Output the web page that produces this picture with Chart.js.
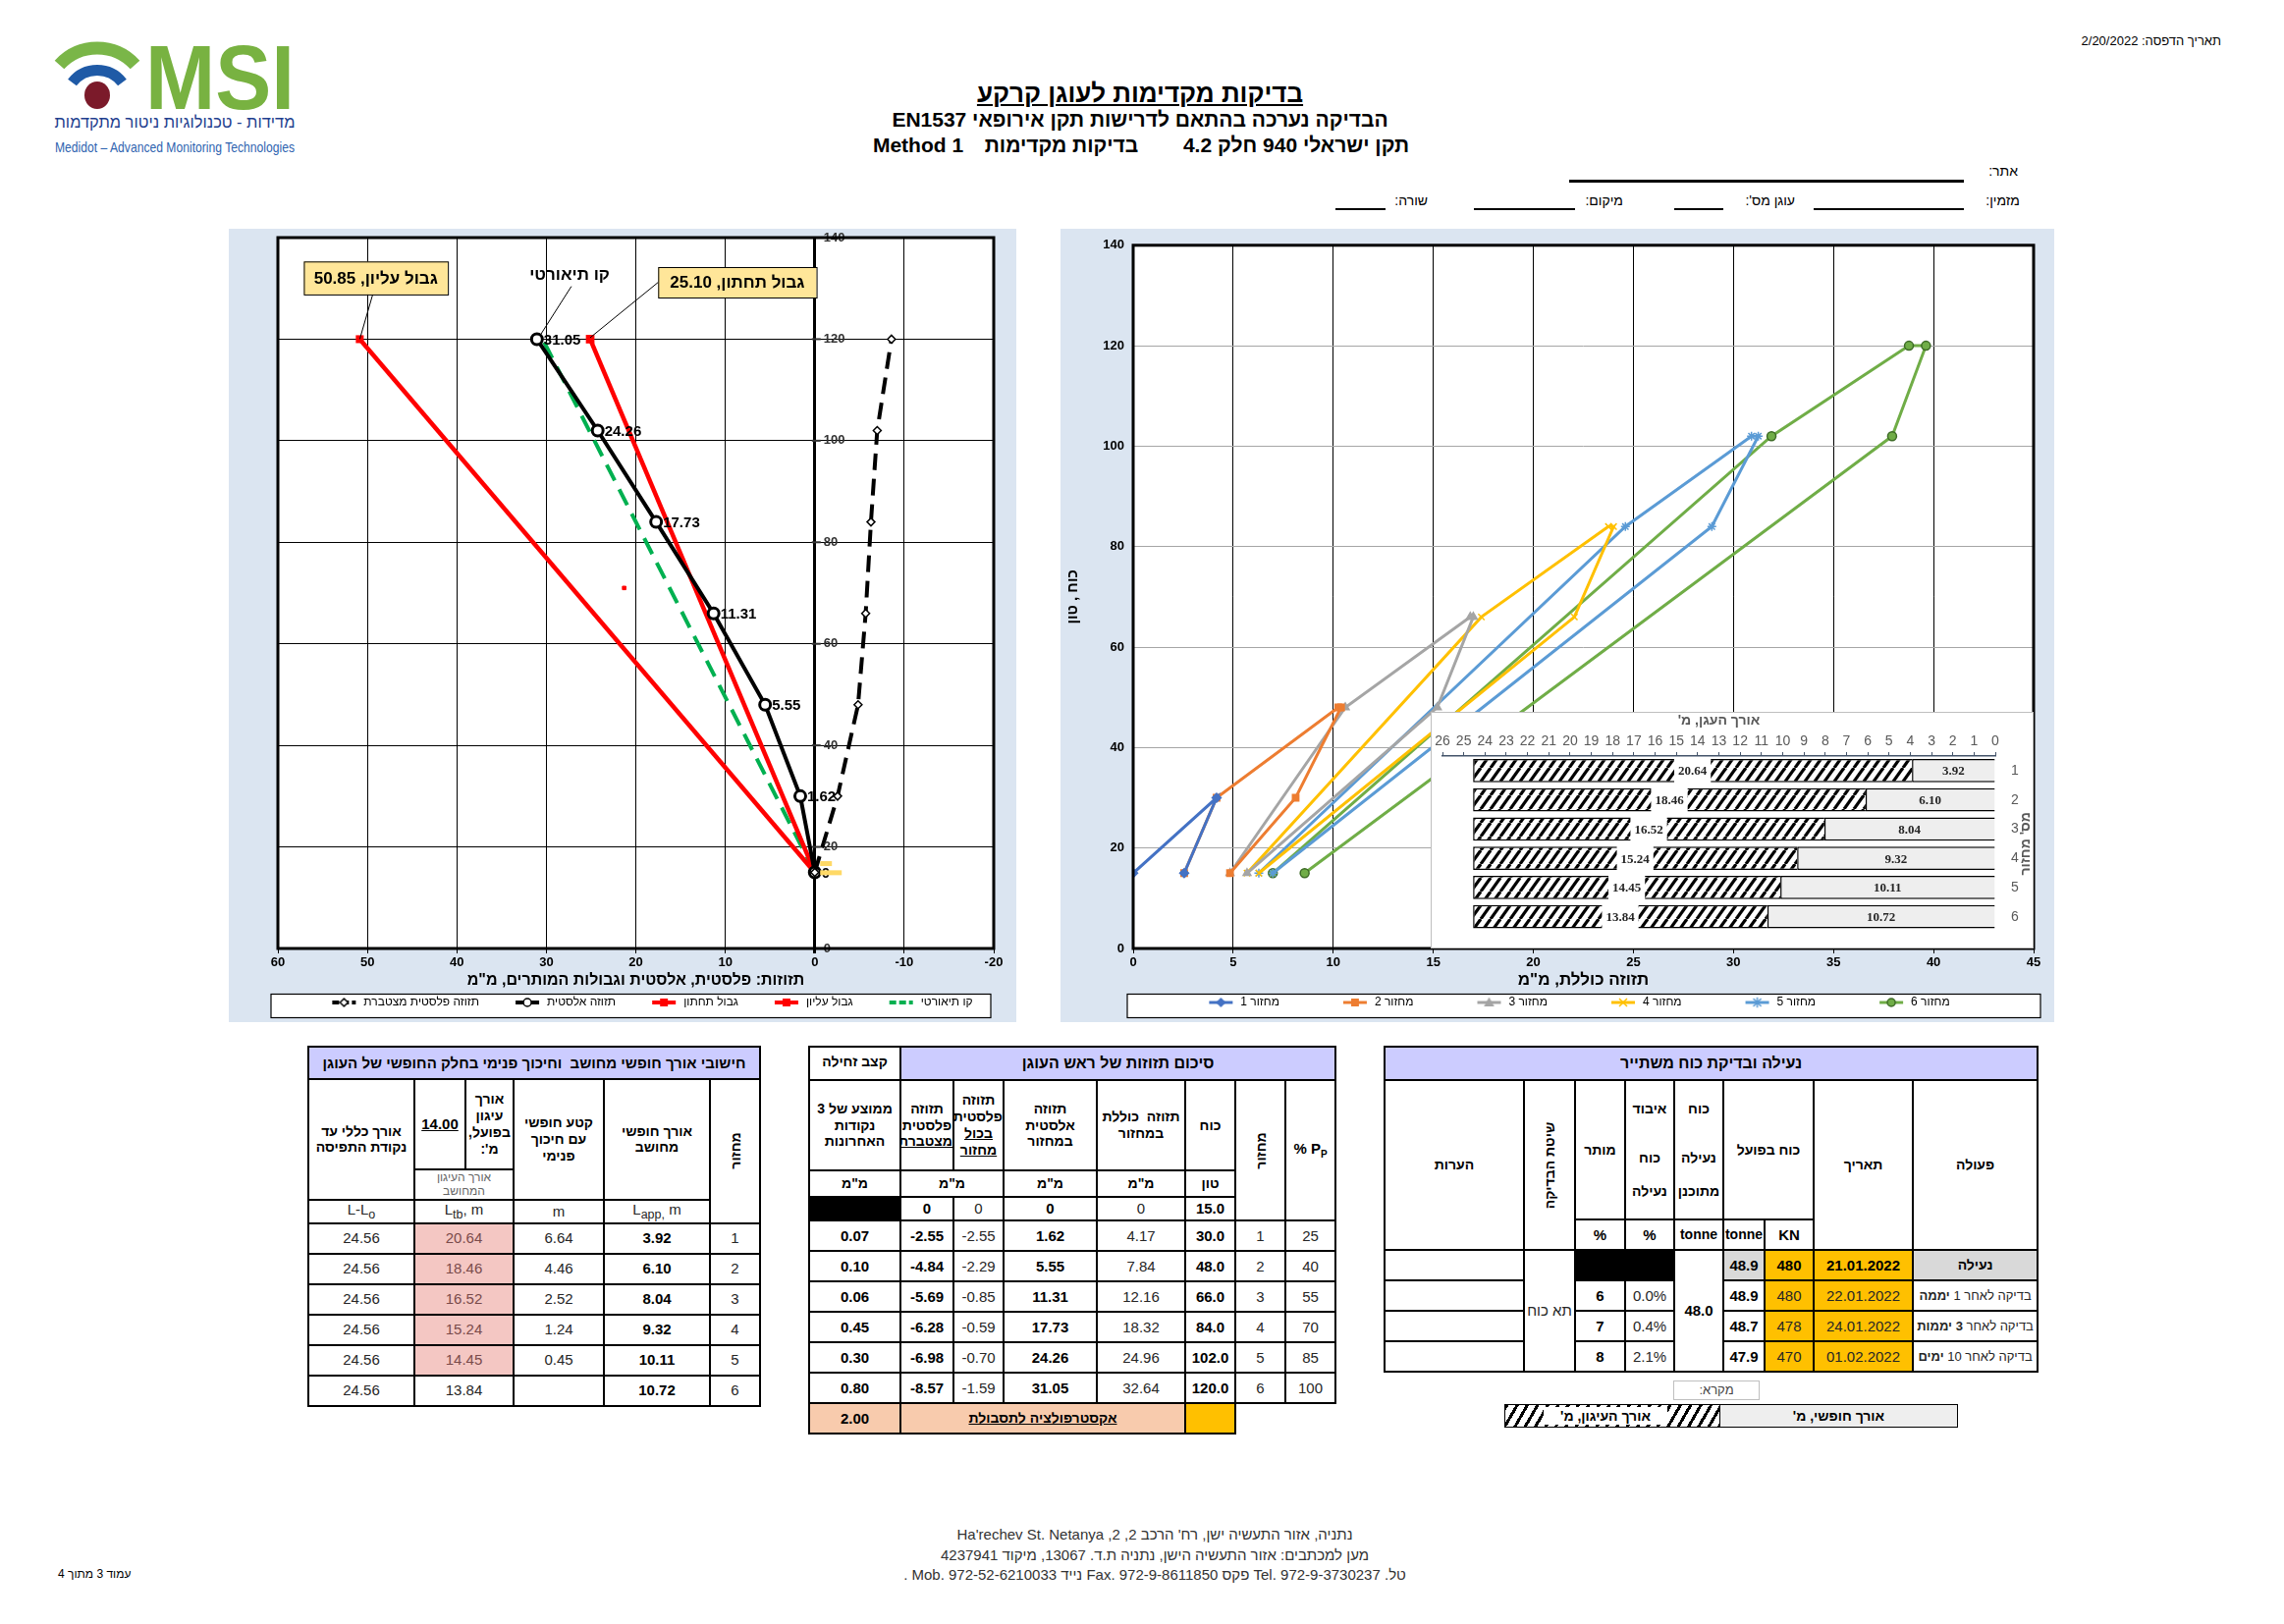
<!DOCTYPE html>
<html lang="he">
<head>
<meta charset="utf-8">
<title>בדיקות מקדימות לעוגן קרקע</title>
<script src="https://cdn.jsdelivr.net/npm/chart.js@4.4.1/dist/chart.umd.min.js"></script>
<style>
  body { margin: 0; background: #fff; }
  #page { position: relative; width: 2326px; height: 1654px; overflow: hidden; font-family: "Liberation Sans", Arial, sans-serif; color: #000; }
  .abs { position: absolute; }
  .nar { font-family: "Liberation Sans Narrow", "Liberation Sans", Arial, sans-serif; }
  .panel { position: absolute; background: #dbe5f1; }
  .uline { position: absolute; height: 0; border-top: 2px solid #000; }
  table.t { position: absolute; border-collapse: collapse; table-layout: fixed; }
  table.t td { border: 2px solid #000; text-align: center; vertical-align: middle; padding: 0; font-size: 15px; color: #262626; line-height: 1.2; position: relative; overflow: hidden; }
  table.t td.hd { background: #ccccff; font-weight: bold; font-size: 16px; color: #000; direction: rtl; white-space: nowrap; }
  .r { direction: rtl; }
  .b { font-weight: bold; color: #000 !important; }
  .hb { font-weight: bold; color: #000 !important; font-size: 14px !important; direction: rtl; }
  .u { text-decoration: underline; }
  .sm { font-size: 12px !important; color: #666 !important; font-weight: normal; direction: rtl; }
  .pink { background: #f4c7c3; color: #7a4b4b !important; }
  .org { background: #ffc000; }
  .gry { background: #d9d9d9; }
  .pch { background: #f8cbad; }
  .blk { background: #000; }
  .vert span { position: absolute; left: 50%; top: 50%; transform: translate(-50%, -50%) rotate(-90deg); white-space: nowrap; }
  .hatch { background: repeating-linear-gradient(120deg, #000 0 3px, #fff 3px 9px); }
</style>
</head>
<body>
<div id="page">

  <!-- logo -->
  <svg class="abs" style="left:0;top:0" width="330" height="170">
    <path d="M 60.5 66 A 52 52 0 0 1 137.5 66" fill="none" stroke="#7ab648" stroke-width="13"/>
    <path d="M 73.5 84 A 32.2 32.2 0 0 1 124.5 84" fill="none" stroke="#1f5aa6" stroke-width="11"/>
    <ellipse cx="99" cy="97" rx="13" ry="14" fill="#7b1a2a"/>
    <text x="148" y="111" font-family="Liberation Sans Narrow, Liberation Sans, Arial" font-weight="bold" font-size="92" fill="#78b241" textLength="152" lengthAdjust="spacingAndGlyphs">MSI</text>
    <text x="178" y="130" text-anchor="middle" font-family="Liberation Sans Narrow, Liberation Sans, Arial" font-size="17" fill="#1f3f8f" textLength="245" lengthAdjust="spacingAndGlyphs">מדידות - טכנולוגיות ניטור מתקדמות</text>
    <text x="56" y="155" font-family="Liberation Sans Narrow, Liberation Sans, Arial" font-size="15" fill="#2f64b0" textLength="244" lengthAdjust="spacingAndGlyphs">Medidot – Advanced Monitoring Technologies</text>
  </svg>

  <!-- header -->
  <div class="abs nar" dir="rtl" style="right:64px;top:34px;font-size:13px">תאריך הדפסה: 2/20/2022</div>
  <div class="abs nar" dir="rtl" style="left:0;width:2322px;top:80px;text-align:center;font-size:26px;font-weight:bold;text-decoration:underline">בדיקות מקדימות לעוגן קרקע</div>
  <div class="abs nar" dir="rtl" style="left:0;width:2322px;top:110px;text-align:center;font-size:21px;font-weight:bold">הבדיקה נערכה בהתאם לדרישות תקן אירופאי EN1537</div>
  <div class="abs nar" dir="rtl" style="left:1200px;width:240px;top:136px;text-align:center;font-size:21px;font-weight:bold">תקן ישראלי 940 חלק 4.2</div>
  <div class="abs nar" dir="rtl" style="left:1000px;width:162px;top:136px;text-align:center;font-size:21px;font-weight:bold">בדיקות מקדימות</div>
  <div class="abs nar" style="left:880px;width:110px;top:136px;text-align:center;font-size:21px;font-weight:bold">Method 1</div>

  <div class="abs nar" dir="rtl" style="right:271px;top:166px;font-size:14px">אתר:</div>
  <div class="uline" style="left:1598px;top:183px;width:402px;border-top-width:3px"></div>
  <div class="abs nar" dir="rtl" style="right:269px;top:196px;font-size:14px">מזמין:</div>
  <div class="uline" style="left:1847px;top:212px;width:153px"></div>
  <div class="abs nar" dir="rtl" style="right:498px;top:196px;font-size:14px">עוגן מס':</div>
  <div class="uline" style="left:1705px;top:212px;width:50px"></div>
  <div class="abs nar" dir="rtl" style="right:673px;top:196px;font-size:14px">מיקום:</div>
  <div class="uline" style="left:1501px;top:212px;width:103px"></div>
  <div class="abs nar" dir="rtl" style="right:872px;top:196px;font-size:14px">שורה:</div>
  <div class="uline" style="left:1360px;top:212px;width:51px"></div>

  <!-- charts -->
  <div class="panel" style="left:233px;top:233px;width:802px;height:808px">
    <canvas id="dispChart" width="802" height="808"></canvas>
  </div>
  <div class="panel" style="left:1080px;top:233px;width:1012px;height:808px">
    <canvas id="cycleChart" width="1012" height="808"></canvas>
    <div class="abs" style="left:377px;top:492px;width:612px;height:239px;background:#fff;border:1px solid #bfbfbf">
      <canvas id="lenChart" width="612" height="239"></canvas>
    </div>
  </div>

  <!-- tables -->
  <table class="t" id="tblFree" style="left:313px;top:1065px;width:460px"></table>
  <table class="t" id="tblDisp" style="left:823px;top:1065px;width:536px"></table>
  <table class="t" id="tblLock" style="left:1409px;top:1065px;width:665px"></table>

  <div class="abs" dir="rtl" style="left:1704px;top:1406px;width:86px;height:18px;border:1px solid #bfbfbf;font-size:13px;text-align:center;line-height:18px;color:#444">מקרא:</div>
  <div class="abs hatch" style="left:1532px;top:1430px;width:218px;height:22px;border:1.5px solid #000"></div>
  <div class="abs" dir="rtl" style="left:1572px;top:1433px;width:126px;height:18px;background:#fff;font-size:14px;font-weight:bold;text-align:center;line-height:18px">אורך העיגון, מ'</div>
  <div class="abs" dir="rtl" style="left:1751px;top:1430px;width:241px;height:22px;border:1.5px solid #000;background:#eeeeee;text-align:center;font-size:14px;font-weight:bold;line-height:22px">אורך חופשי, מ'</div>

  <!-- footer -->
  <div class="abs nar" dir="rtl" style="left:176px;width:2000px;top:1553px;text-align:center;font-size:15px;color:#333;line-height:20.5px">
    נתניה, אזור התעשיה ישן, רח' הרכב 2, 2, Ha'rechev St. Netanya<br>
    מען למכתבים: אזור התעשיה הישן, נתניה ת.ד. 13067, מיקוד 4237941<br>
    טל. Tel. 972-9-3730237 פקס Fax. 972-9-8611850 נייד Mob. 972-52-6210033 .
  </div>
  <div class="abs nar" dir="rtl" style="left:59px;top:1596px;font-size:12px">עמוד 3 מתוך 4</div>
</div>

<script>
// ---------------- data ----------------
const cycles = [1, 2, 3, 4, 5, 6];
const loadPct = [25, 40, 55, 70, 85, 100];
const lockOffT = 15.0;
const forceT = [30.0, 48.0, 66.0, 84.0, 102.0, 120.0];
const totalDisp = [4.17, 7.84, 12.16, 18.32, 24.96, 32.64];
const elasticDisp = [1.62, 5.55, 11.31, 17.73, 24.26, 31.05];
const plasticCycle = [-2.55, -2.29, -0.85, -0.59, -0.70, -1.59];
const plasticCum = [-2.55, -4.84, -5.69, -6.28, -6.98, -8.57];
const creepRate = [0.07, 0.10, 0.06, 0.45, 0.30, 0.80];
const creepLimit = 2.00;

// permitted limits (left chart)
const upperLimit = 50.85;
const lowerLimit = 25.10;
const theoryTop = 30.42;
const upperMarkX = [21.3];
const upperMarkY = [71];

// load / displacement loops per cycle (right chart)
const loopX = [
  [0, 4.17, 2.55],
  [2.55, 4.17, 10.25, 10.39, 8.12, 4.84],
  [4.84, 10.6, 16.85, 17.0, 15.2, 5.69],
  [5.69, 17.4, 23.75, 24.01, 22.05, 6.28],
  [6.28, 24.6, 30.9, 31.24, 28.92, 6.98],
  [6.98, 31.9, 38.77, 39.62, 37.93, 8.57]
];
const loopY = [
  [15, 30, 15],
  [15, 30, 48, 48, 30, 15],
  [15, 48, 66, 66, 48, 15],
  [15, 66, 84, 84, 66, 15],
  [15, 84, 102, 102, 84, 15],
  [15, 102, 120, 120, 102, 15]
];

// tendon lengths
const lTotal = [24.56, 24.56, 24.56, 24.56, 24.56, 24.56];
const lBondActual = 14.00;
const lBondCalc = [20.64, 18.46, 16.52, 15.24, 14.45, 13.84];
const lFriction = [6.64, 4.46, 2.52, 1.24, 0.45, null];
const lFreeCalc = [3.92, 6.10, 8.04, 9.32, 10.11, 10.72];

// lock-off & residual force
const lockActions = [['', 'נעילה'], ['בדיקה לאחר 1 ', 'יממה'], ['בדיקה לאחר ', '3 יממות'], ['בדיקה לאחר 10 ', 'ימים']];
const lockDates = ['21.01.2022', '22.01.2022', '24.01.2022', '01.02.2022'];
const lockKN = [480, 480, 478, 470];
const lockTonne = [48.9, 48.9, 48.7, 47.9];
const lockLoss = [null, '0.0%', '0.4%', '2.1%'];
const lockAllowed = [null, 6, 7, 8];
const lockPlanned = 48.0;

// ---------------- helpers ----------------
const sans = '"Liberation Sans", Arial, sans-serif';
const narrow = '"Liberation Sans Narrow", "Liberation Sans", Arial, sans-serif';
Chart.defaults.font.family = sans;
Chart.defaults.color = '#000';

const pts = (xs, ys) => xs.map((x, i) => ({ x, y: ys[i] }));
const last = a => a[a.length - 1];

function marker(g, style, x, y, r) {
  g.beginPath();
  if (style === 'circle') g.arc(x, y, r, 0, Math.PI * 2);
  else if (style === 'rect') g.rect(x - r * 0.8, y - r * 0.8, r * 1.6, r * 1.6);
  else if (style === 'rectRot') { g.moveTo(x, y - r); g.lineTo(x + r, y); g.lineTo(x, y + r); g.lineTo(x - r, y); g.closePath(); }
  else if (style === 'triangle') { g.moveTo(x, y - r); g.lineTo(x + r, y + r * 0.8); g.lineTo(x - r, y + r * 0.8); g.closePath(); }
  else if (style === 'crossRot' || style === 'star') {
    g.moveTo(x - r, y - r); g.lineTo(x + r, y + r); g.moveTo(x + r, y - r); g.lineTo(x - r, y + r);
    if (style === 'star') { g.moveTo(x, y - r * 1.3); g.lineTo(x, y + r * 1.3); }
    g.stroke(); return;
  }
  g.fill(); g.stroke();
}

function legendSample(w, ds) {
  const c = document.createElement('canvas');
  c.width = w; c.height = 14;
  const g = c.getContext('2d');
  const x1 = w - 26, x2 = w - 2, y = 7;
  g.strokeStyle = ds.borderColor;
  g.lineWidth = Math.min(ds.borderWidth || 2, 4);
  g.setLineDash(ds.borderDash ? [7, 3] : []);
  g.beginPath(); g.moveTo(x1, y); g.lineTo(x2, y); g.stroke();
  g.setLineDash([]);
  if (ds.pointRadius > 0 && ds.pointStyle) {
    g.fillStyle = ds.pointBackgroundColor || ds.borderColor;
    g.strokeStyle = ds.pointBorderColor || ds.borderColor;
    g.lineWidth = 1.5;
    marker(g, ds.pointStyle, (x1 + x2) / 2, y, 4);
  }
  return c;
}

function legendOpts(sampleW) {
  return {
    position: 'bottom',
    labels: {
      font: { size: 12 }, color: '#000', padding: 3, boxHeight: 12,
      usePointStyle: true, pointStyleWidth: sampleW,
      filter: it => it.text !== '',
      generateLabels(chart) {
        const items = Chart.defaults.plugins.legend.labels.generateLabels(chart);
        items.forEach(it => { it.pointStyle = legendSample(sampleW, chart.data.datasets[it.datasetIndex]); });
        return items;
      }
    }
  };
}

// white plot area + white framed legend box
const panelFrame = {
  id: 'panelFrame',
  beforeDraw(chart, args, opts) {
    const { ctx, chartArea: a, legend: lg } = chart;
    ctx.save();
    ctx.fillStyle = '#fff';
    ctx.fillRect(a.left, a.top, a.width, a.height);
    ctx.fillRect(a.left + opts.dl, lg.top, a.width - opts.dl + opts.dr, lg.height);
    ctx.restore();
  },
  afterDraw(chart, args, opts) {
    const { ctx, chartArea: a, legend: lg } = chart;
    ctx.save();
    ctx.strokeStyle = '#000';
    ctx.lineWidth = 1.2;
    ctx.strokeRect(a.left + opts.dl, lg.top + 0.5, a.width - opts.dl + opts.dr, lg.height - 1);
    ctx.lineWidth = 3;
    ctx.strokeRect(a.left, a.top, a.width, a.height);
    ctx.restore();
  }
};

// ---------------- left chart: displacements & limits ----------------
const notes = [
  { text: 'גבול עליון, ' + upperLimit.toFixed(2), box: [57.1, 135.3, 41.0, 128.8], from: [49.4, 128.8], to: [upperLimit, 120] },
  { text: 'קו תיאורטי', at: [27.4, 132.8], from: [27.2, 130.4], to: [30.6, 121] },
  { text: 'גבול תחתון, ' + lowerLimit.toFixed(2), box: [17.5, 134.2, -0.2, 128.2], from: [17.5, 131.2], to: [lowerLimit, 120.3] }
];

const dispDecor = {
  id: 'dispDecor',
  afterDatasetsDraw(chart) {
    const { ctx, scales: { x, y } } = chart;
    const px = v => x.getPixelForValue(v), py = v => y.getPixelForValue(v);
    ctx.save();
    // force axis on the zero line
    const x0 = px(0);
    ctx.font = 'bold 13px ' + sans;
    ctx.fillStyle = '#333';
    ctx.textBaseline = 'middle';
    ctx.textAlign = 'left';
    y.ticks.forEach(t => {
      const yy = py(t.value);
      ctx.fillRect(x0 - 3, yy - 1, 9, 2);
      ctx.fillText(String(t.value), x0 + 9, yy);
    });
    // elastic values
    ctx.font = 'bold 15px ' + sans;
    ctx.fillStyle = '#000';
    chart.getDatasetMeta(1).data.forEach((p, i) => {
      ctx.fillText(i === 0 ? '0' : elasticDisp[i - 1].toFixed(2), p.x + 7, p.y + 1);
    });
    // little tags at lock-off point
    ctx.fillStyle = '#ffd966';
    ctx.fillRect(px(-0.6), py(17.2), 12, 5);
    ctx.fillRect(px(-0.6), py(15.4), 22, 5);
    // callouts
    notes.forEach(n => {
      ctx.strokeStyle = '#000';
      ctx.lineWidth = 1;
      ctx.beginPath();
      ctx.moveTo(px(n.from[0]), py(n.from[1]));
      ctx.lineTo(px(n.to[0]), py(n.to[1]));
      ctx.stroke();
      let cx, cy;
      if (n.box) {
        const l = px(n.box[0]), t = py(n.box[1]), r = px(n.box[2]), b = py(n.box[3]);
        ctx.fillStyle = '#ffe699';
        ctx.fillRect(l, t, r - l, b - t);
        ctx.strokeRect(l + 0.5, t + 0.5, r - l, b - t);
        cx = (l + r) / 2; cy = (t + b) / 2;
      } else {
        cx = px(n.at[0]); cy = py(n.at[1]);
      }
      ctx.fillStyle = '#000';
      ctx.font = 'bold 17px ' + sans;
      ctx.textAlign = 'center';
      ctx.fillText(n.text, cx, cy + 1);
    });
    ctx.restore();
  }
};

new Chart(document.getElementById('dispChart'), {
  type: 'scatter',
  data: {
    datasets: [
      { label: 'תזוזה פלסטית מצטברת', data: pts([0, ...plasticCum], [lockOffT, ...forceT]), showLine: true,
        borderColor: '#000', borderWidth: 4, borderDash: [17, 9], pointStyle: 'rectRot', pointRadius: 4,
        pointBackgroundColor: '#fff', pointBorderColor: '#000', pointBorderWidth: 1.5 },
      { label: 'תזוזה אלסטית', data: pts([0, ...elasticDisp], [lockOffT, ...forceT]), showLine: true,
        borderColor: '#000', borderWidth: 4, pointStyle: 'circle', pointRadius: 5.5,
        pointBackgroundColor: '#fff', pointBorderColor: '#000', pointBorderWidth: 3 },
      { label: 'גבול תחתון', data: pts([0, lowerLimit], [lockOffT, last(forceT)]), showLine: true,
        borderColor: '#ff0000', borderWidth: 4.5, pointStyle: 'rect', pointRadius: 3,
        pointBackgroundColor: '#ff0000', pointBorderColor: '#ff0000' },
      { label: 'גבול עליון', data: pts([0, upperLimit], [lockOffT, last(forceT)]), showLine: true,
        borderColor: '#ff0000', borderWidth: 4.5, pointStyle: 'rect', pointRadius: 2.5,
        pointBackgroundColor: '#ff0000', pointBorderColor: '#ff0000' },
      { label: 'קו תיאורטי', data: pts([0, theoryTop], [lockOffT, last(forceT)]), showLine: true,
        borderColor: '#00b050', borderWidth: 4, borderDash: [18, 10], pointRadius: 0 },
      { label: '', data: pts(upperMarkX, upperMarkY), showLine: false, pointStyle: 'rect', pointRadius: 2.5,
        pointBackgroundColor: '#ff0000', pointBorderColor: '#ff0000' }
    ]
  },
  options: {
    responsive: false,
    animation: false,
    layout: { padding: { left: 50, right: 23, top: 9, bottom: 4 } },
    scales: {
      x: {
        type: 'linear', reverse: true, min: -20, max: 60,
        ticks: { stepSize: 10, font: { weight: 'bold', size: 13 }, color: '#000', padding: 2 },
        grid: { color: '#000', lineWidth: c => (c.tick && c.tick.value === 0 ? 3 : 1), tickLength: 5 },
        border: { display: false },
        title: { display: true, text: 'תזוזות: פלסטית, אלסטית וגבולות המותרים, מ"מ', font: { weight: 'bold', size: 16 }, color: '#000', padding: { top: 0, bottom: 4 } },
        afterFit: s => { s.height = 46; }
      },
      y: {
        min: 0, max: 140,
        ticks: { stepSize: 20, display: false },
        grid: { color: '#000', drawTicks: false },
        border: { display: false },
        afterFit: s => { s.width = 0; }
      }
    },
    plugins: {
      legend: legendOpts(60),
      tooltip: { enabled: false },
      panelFrame: { dl: -7, dr: -3 }
    }
  },
  plugins: [panelFrame, dispDecor]
});

// ---------------- right chart: load cycles ----------------
const cycleColors = ['#4472c4', '#ed7d31', '#a5a5a5', '#ffc000', '#5b9bd5', '#70ad47'];
const cycleMarks = ['rectRot', 'rect', 'triangle', 'crossRot', 'star', 'circle'];

new Chart(document.getElementById('cycleChart'), {
  type: 'scatter',
  data: {
    datasets: cycles.map((c, i) => ({
      label: 'מחזור ' + c,
      data: pts(loopX[i], loopY[i]),
      showLine: true,
      borderColor: cycleColors[i],
      backgroundColor: cycleColors[i],
      borderWidth: 3,
      pointStyle: cycleMarks[i],
      pointRadius: 4.5,
      pointBorderWidth: 1.5,
      pointBackgroundColor: cycleColors[i],
      pointBorderColor: i === 5 ? '#3d6b26' : cycleColors[i]
    }))
  },
  options: {
    responsive: false,
    animation: false,
    layout: { padding: { left: 4, right: 21, top: 9, bottom: 4 } },
    scales: {
      x: {
        type: 'linear', min: 0, max: 45,
        ticks: { stepSize: 5, font: { weight: 'bold', size: 13 }, color: '#000', padding: 2 },
        grid: { color: '#000', tickLength: 5 },
        border: { display: false },
        title: { display: true, text: 'תזוזה כוללת, מ"מ', font: { weight: 'bold', size: 17 }, color: '#000', padding: { top: 0, bottom: 3 } },
        afterFit: s => { s.height = 46; }
      },
      y: {
        min: 0, max: 140,
        ticks: { stepSize: 20, font: { weight: 'bold', size: 13 }, color: '#000', padding: 9 },
        grid: { color: '#a6a6a6', drawTicks: false },
        border: { display: false },
        title: { display: true, text: 'כוח , טון', font: { weight: 'bold', size: 15 }, color: '#000', padding: 0 },
        afterFit: s => { s.width = 70; }
      }
    },
    plugins: {
      legend: legendOpts(88),
      tooltip: { enabled: false },
      panelFrame: { dl: -6, dr: 7 }
    }
  },
  plugins: [panelFrame]
});

// ---------------- inset: tendon length per cycle ----------------
function makeHatch() {
  const c = document.createElement('canvas');
  c.width = 10; c.height = 14;
  const g = c.getContext('2d');
  g.fillStyle = '#fff';
  g.fillRect(0, 0, 10, 14);
  g.strokeStyle = '#000';
  g.lineWidth = 3.2;
  [-10, 0, 10].forEach(o => { g.beginPath(); g.moveTo(o, 14); g.lineTo(o + 10, 0); g.stroke(); });
  return g.createPattern(c, 'repeat');
}

const barLabels = {
  id: 'barLabels',
  afterDatasetsDraw(chart) {
    const { ctx, chartArea: a } = chart;
    ctx.save();
    ctx.textAlign = 'center';
    ctx.textBaseline = 'middle';
    ctx.font = 'bold 13px "Liberation Serif", serif';
    chart.data.datasets.forEach((ds, di) => {
      chart.getDatasetMeta(di).data.forEach((bar, i) => {
        const cx = (bar.x + bar.base) / 2;
        const txt = ds.data[i].toFixed(2);
        if (di === 1) {
          const w = ctx.measureText(txt).width + 8;
          ctx.fillStyle = '#fff';
          ctx.fillRect(cx - w / 2, bar.y - bar.height / 2 - 1, w, bar.height + 2);
        }
        ctx.fillStyle = '#262626';
        ctx.fillText(txt, cx, bar.y + 1);
      });
    });
    // category axis title
    ctx.translate(chart.width - 7, (a.top + a.bottom) / 2);
    ctx.rotate(-Math.PI / 2);
    ctx.font = 'bold 14px ' + sans;
    ctx.fillStyle = '#595959';
    ctx.fillText("מס' מחזור", 0, 0);
    ctx.restore();
  }
};

new Chart(document.getElementById('lenChart'), {
  type: 'bar',
  data: {
    labels: cycles,
    datasets: [
      { label: "אורך חופשי, מ'", data: lFreeCalc, backgroundColor: '#eeeeee', borderColor: '#000', borderWidth: 1.5 },
      { label: "אורך העיגון, מ'", data: lBondCalc, backgroundColor: makeHatch(), borderColor: '#000', borderWidth: 1.5 }
    ]
  },
  options: {
    indexAxis: 'y',
    responsive: false,
    animation: false,
    layout: { padding: { left: 11, right: 0, top: 0, bottom: 6 } },
    datasets: { bar: { categoryPercentage: 0.8, barPercentage: 1 } },
    scales: {
      x: {
        position: 'top', reverse: true, min: 0, max: 26, stacked: true,
        ticks: { stepSize: 1, autoSkip: false, maxRotation: 0, font: { size: 14, family: narrow }, color: '#595959', padding: 2 },
        grid: { drawOnChartArea: false, tickLength: 4, color: '#44546a' },
        border: { color: '#44546a', width: 1.5 },
        title: { display: true, text: "אורך העגן, מ'\u200F", color: '#595959', font: { size: 14, weight: 'bold' }, padding: 0 },
        afterFit: s => { s.height = 44; }
      },
      y: {
        position: 'right', stacked: true,
        ticks: { font: { size: 14 }, color: '#595959', padding: 8 },
        grid: { display: false },
        border: { display: false },
        afterFit: s => { s.width = 38; }
      }
    },
    plugins: { legend: { display: false }, tooltip: { enabled: false } }
  },
  plugins: [barLabels]
});

// ---------------- tables ----------------
const f2 = v => (v == null ? '' : v.toFixed(2));
const cols = ws => '<colgroup>' + ws.map(w => `<col style="width:${w}px">`).join('') + '</colgroup>';

// free length table
let h = cols([108, 52, 49, 92, 108, 51]);
h += `<tr style="height:33px"><td colspan="6" class="hd" style="font-size:15px">חישובי אורך חופשי מחושב &nbsp;וחיכוך פנימי בחלק החופשי של העוגן</td></tr>`;
h += `<tr style="height:92px"><td rowspan="2" class="hb">אורך כללי עד<br>נקודת התפיסה</td>` +
     `<td class="b u">${lBondActual.toFixed(2)}</td>` +
     `<td class="hb">אורך<br>עיגון<br>בפועל,<br>מ':</td>` +
     `<td rowspan="2" class="hb">קטע חופשי<br>עם חיכוך<br>פנימי</td>` +
     `<td rowspan="2" class="hb">אורך חופשי<br>מחושב</td>` +
     `<td rowspan="3" class="hb vert"><span>מחזור</span></td></tr>`;
h += `<tr style="height:28px"><td colspan="2" class="sm">אורך העיגון<br>המחושב</td></tr>`;
h += `<tr style="height:23px"><td>L-L<sub>o</sub></td><td colspan="2">L<sub>tb</sub>, m</td><td>m</td><td>L<sub>app,</sub> m</td></tr>`;
cycles.forEach((c, i) => {
  const pink = lBondCalc[i] > lBondActual ? ' class="pink"' : '';
  h += `<tr style="height:31px"><td>${f2(lTotal[i])}</td><td colspan="2"${pink}>${f2(lBondCalc[i])}</td>` +
       `<td>${f2(lFriction[i])}</td><td class="b">${f2(lFreeCalc[i])}</td><td>${c}</td></tr>`;
});
document.getElementById('tblFree').innerHTML = h;

// displacement summary table
let m = cols([93, 54, 51, 95, 90, 51, 51, 51]);
m += `<tr style="height:34px"><td class="hb" style="vertical-align:top;padding-top:6px">קצב זחילה</td><td colspan="7" class="hd">סיכום תזוזות של ראש העוגן</td></tr>`;
m += `<tr style="height:92px"><td class="hb" style="border-top-color:#fff">ממוצע של 3<br>נקודות<br>האחרונות</td>` +
     `<td class="hb">תזוזה<br>פלסטית<br><u>מצטברת</u></td>` +
     `<td class="hb">תזוזה<br>פלסטית<br><u>בכול</u><br><u>מחזור</u></td>` +
     `<td class="hb">תזוזה<br>אלסטית<br>במחזור</td>` +
     `<td class="hb">תזוזה &nbsp;כוללת<br>במחזור</td>` +
     `<td class="hb">כוח</td>` +
     `<td rowspan="3" class="hb vert"><span>מחזור</span></td>` +
     `<td rowspan="3" class="b" style="font-size:15px">% P<sub style="font-size:10px">P</sub></td></tr>`;
m += `<tr style="height:27px"><td class="hb">מ"מ</td><td colspan="2" class="hb">מ"מ</td><td class="hb">מ"מ</td><td class="hb">מ"מ</td><td class="hb">טון</td></tr>`;
m += `<tr style="height:24px"><td class="blk"></td><td class="b">0</td><td>0</td><td class="b">0</td><td>0</td><td class="b">${lockOffT.toFixed(1)}</td></tr>`;
cycles.forEach((c, i) => {
  m += `<tr style="height:31px"><td class="b">${f2(creepRate[i])}</td><td class="b">${f2(plasticCum[i])}</td>` +
       `<td>${f2(plasticCycle[i])}</td><td class="b">${f2(elasticDisp[i])}</td><td>${f2(totalDisp[i])}</td>` +
       `<td class="b">${forceT[i].toFixed(1)}</td><td>${c}</td><td>${loadPct[i]}</td></tr>`;
});
m += `<tr style="height:31px"><td class="b pch">${f2(creepLimit)}</td><td colspan="4" class="hb pch u">אקסטרפולציה לתסבולת</td>` +
     `<td class="org"></td><td colspan="2" style="border-left:none;border-right:none;border-bottom:none"></td></tr>`;
document.getElementById('tblDisp').innerHTML = m;

// lock-off table
let k = cols([142, 52, 51, 50, 50, 42, 50, 101, 127]);
k += `<tr style="height:34px"><td colspan="9" class="hd">נעילה ובדיקת כוח משתייר</td></tr>`;
k += `<tr style="height:142px"><td rowspan="2" class="hb">הערות</td>` +
     `<td rowspan="2" class="hb vert"><span>שיטת הבדיקה</span></td>` +
     `<td class="hb">מותר</td>` +
     `<td class="hb">איבוד<br><br><br>כוח<br><br>נעילה</td>` +
     `<td class="hb">כוח<br><br><br>נעילה<br><br>מתוכנן</td>` +
     `<td colspan="2" class="hb">כוח בפועל</td>` +
     `<td rowspan="2" class="hb">תאריך</td><td rowspan="2" class="hb">פעולה</td></tr>`;
k += `<tr style="height:31px"><td class="b">%</td><td class="b">%</td><td class="b" style="font-size:14px">tonne</td><td class="b" style="font-size:14px">tonne</td><td class="b">KN</td></tr>`;
lockDates.forEach((d, i) => {
  let row = `<tr style="height:31px"><td></td>`;
  if (i === 0) {
    row += `<td rowspan="4" class="r">תא כוח</td><td colspan="2" class="blk"></td><td rowspan="4" class="b">${lockPlanned.toFixed(1)}</td>` +
           `<td class="b gry">${lockTonne[i].toFixed(1)}</td><td class="b org">${lockKN[i]}</td><td class="b org">${d}</td>` +
           `<td class="hb gry">${lockActions[i][1]}</td>`;
  } else {
    row += `<td class="b">${lockAllowed[i]}</td><td>${lockLoss[i]}</td>` +
           `<td class="b">${lockTonne[i].toFixed(1)}</td><td class="org">${lockKN[i]}</td><td class="org">${d}</td>` +
           `<td class="r" style="font-size:13px">${lockActions[i][0]}<b>${lockActions[i][1]}</b></td>`;
  }
  k += row + '</tr>';
});
document.getElementById('tblLock').innerHTML = k;
</script>
</body>
</html>
